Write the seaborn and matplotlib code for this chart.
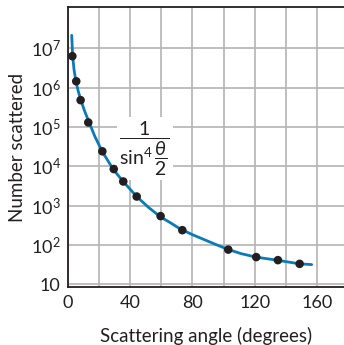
import numpy as np
import pandas as pd
import matplotlib
matplotlib.use("Agg")
import matplotlib.pyplot as plt
import matplotlib.ticker as mticker
import seaborn as sns

# measured points (angle in degrees, number scattered)
angles = [3.1, 5.6, 8.4, 13.3, 22.3, 29.6, 35.7, 44.3, 59.6, 73.5, 102.9, 120.8, 134.7, 148.6]
counts = [6.3e6, 1.45e6, 4.8e5, 1.3e5, 2.4e4, 8.5e3, 4.1e3, 1.7e3, 540, 237, 76, 49, 41, 33]

# theoretical curve samples
curve_angles = [2.7, 3.3, 4.2, 5.4, 6.8, 8.4, 10.8, 13.6, 17.5, 22.3, 29.3, 35.7, 44.3, 52.0,
                59.6, 65.6, 72.0, 80.0, 86.9, 95.0, 102.5, 111.0, 120.6, 134.5, 148.4, 156.3]
curve_log = [7.33, 6.80, 6.45, 6.16, 5.92, 5.70, 5.42, 5.14, 4.76, 4.37, 3.92, 3.61, 3.23, 2.95,
             2.71, 2.57, 2.41, 2.26, 2.145, 2.01, 1.89, 1.78, 1.69, 1.61, 1.52, 1.50]

xticks = [0, 40, 80, 120, 160]
yticks = [10, 1e2, 1e3, 1e4, 1e5, 1e6, 1e7]
ytick_labels = ["10", r"$10^2$", r"$10^3$", r"$10^4$", r"$10^5$", r"$10^6$", r"$10^7$"]

sns.set_style("white")
plt.rcParams["font.family"] = ["Lato", "DejaVu Sans"]
plt.rcParams["mathtext.fontset"] = "custom"
plt.rcParams["mathtext.rm"] = "Lato"
plt.rcParams["mathtext.it"] = "Lato:italic"
plt.rcParams["mathtext.sf"] = "Lato"

fig = plt.figure(figsize=(3.44, 3.45), dpi=100)
ax = fig.add_axes([67.5 / 344, (345 - 287) / 345, 1 - 67.5 / 344, (287 - 7) / 345])

df_curve = pd.DataFrame({"angle": curve_angles, "n": [10 ** v for v in curve_log]})
df_pts = pd.DataFrame({"angle": angles, "n": counts})

ax.set_yscale("log")
sns.lineplot(data=df_curve, x="angle", y="n", ax=ax, color="#0a7ab8", linewidth=2.0, zorder=3)
sns.scatterplot(data=df_pts, x="angle", y="n", ax=ax, color="#231f20", s=38,
                edgecolor="none", zorder=4)

ax.set_xlim(0, 177)
ax.set_ylim(10 ** 0.93, 10 ** 8.05)
ax.set_xticks(xticks)
ax.set_xticks(np.arange(20, 180, 40), minor=True)
ax.set_yticks(yticks)
ax.set_yticklabels(ytick_labels)
ax.yaxis.set_minor_locator(mticker.NullLocator())
ax.grid(True, which="both", axis="x", color="#b4b4b4", linewidth=1.2)
ax.grid(True, which="major", axis="y", color="#b4b4b4", linewidth=1.2)
ax.set_axisbelow(True)

ax.tick_params(axis="both", which="both", length=0, labelsize=13, colors="#231f20")
ax.tick_params(axis="x", pad=6)
ax.tick_params(axis="y", pad=5)

for side in ["left", "top", "bottom"]:
    ax.spines[side].set_visible(True)
    ax.spines[side].set_color("#231f20")
    ax.spines[side].set_linewidth(1.3)
ax.spines["right"].set_visible(False)

ax.set_xlabel("Scattering angle (degrees)", fontsize=13.5, color="#231f20", labelpad=11)
ax.set_ylabel("Number scattered", fontsize=13.5, color="#231f20", labelpad=3)

ax.text(49.5, 10 ** 4.45, r"$\dfrac{1}{\sin^4\dfrac{\theta}{2}}$", fontsize=14, ha="center",
        va="center", color="#231f20", zorder=2.5,
        bbox=dict(facecolor="white", edgecolor="none", pad=2))

fig.savefig("out.png", dpi=100)
